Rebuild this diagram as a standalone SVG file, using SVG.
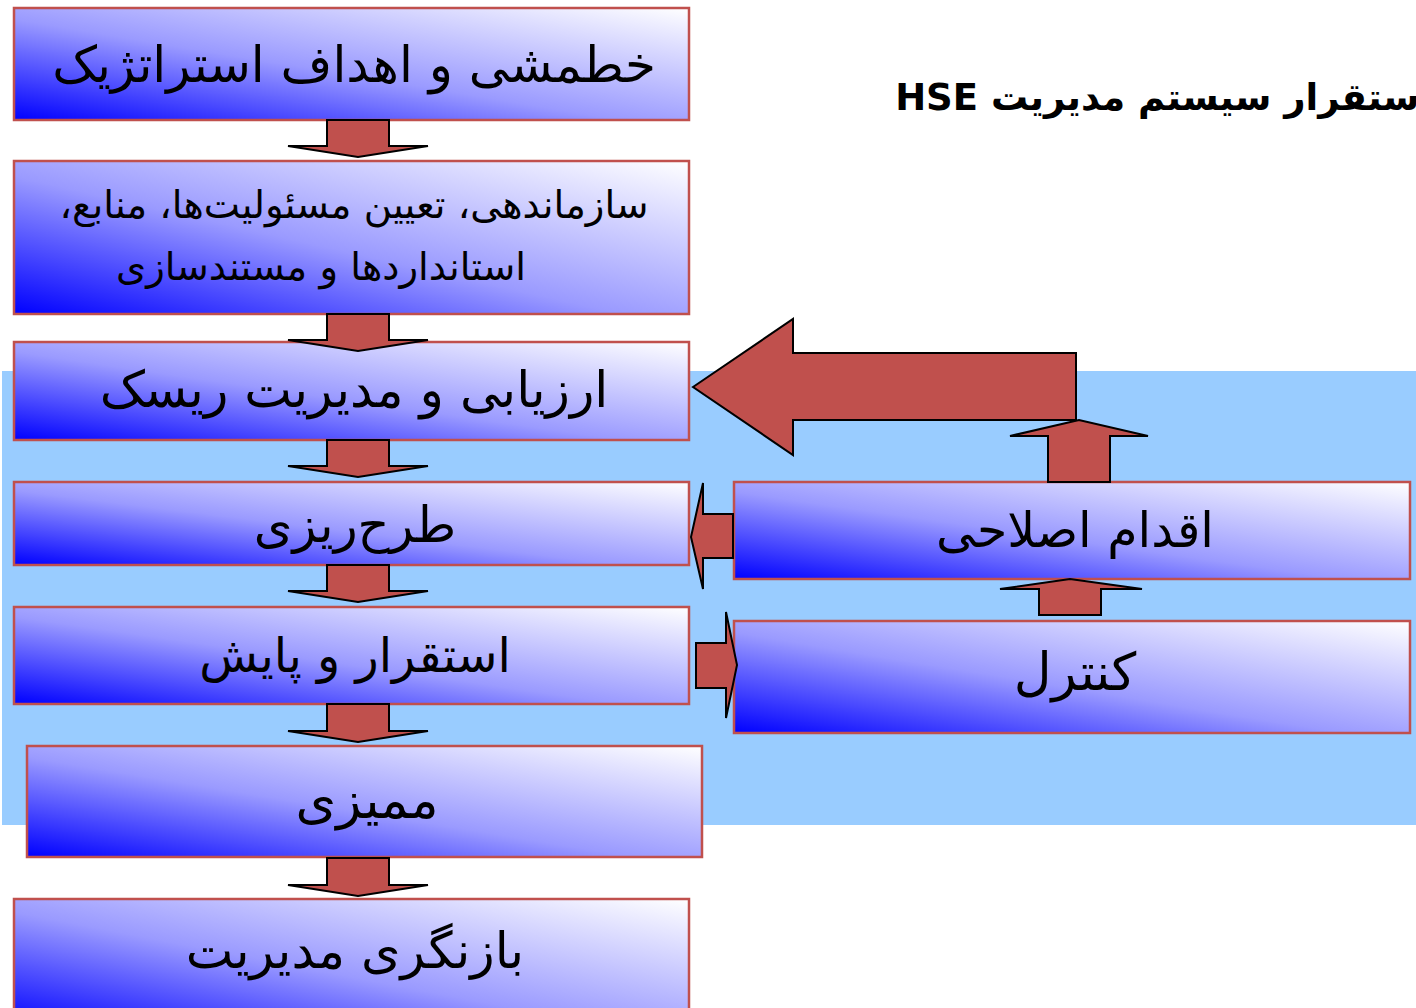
<svg xmlns="http://www.w3.org/2000/svg" width="1416" height="1008" viewBox="0 0 1416 1008">
<defs>
<linearGradient id="g" x1="0" y1="1" x2="1" y2="0">
<stop offset="0" stop-color="#0000ff"/>
<stop offset="0.45" stop-color="#9a9aff"/>
<stop offset="1" stop-color="#ffffff"/>
</linearGradient>
<style>
.box{fill:url(#g);stroke:#c0504d;stroke-width:2.5}
.t{font-family:"DejaVu Sans",sans-serif;fill:#000;text-anchor:middle;direction:rtl}
.arr{fill:#c0504d;stroke:#000;stroke-width:2;stroke-linejoin:miter}
</style>
</defs>
<rect width="1416" height="1008" fill="#ffffff"/>
<rect x="2" y="371" width="1416" height="454" fill="#99ccff"/>
<text x="1432" y="110" font-family="DejaVu Sans,sans-serif" font-weight="bold" font-size="37" direction="rtl" text-anchor="start">استقرار سیستم مدیریت HSE</text>
<g id="n1"><rect class="box" x="14" y="8" width="675" height="112"/><text class="t" x="354" y="82" font-size="50">خطمشی و اهداف استراتژیک</text></g>
<g id="n2"><rect class="box" x="14" y="161" width="675" height="153"/><text class="t" x="354" y="218" font-size="38.5">سازماندهی، تعیین مسئولیت‌ها، منابع،</text><text class="t" x="321" y="280" font-size="38.5">استانداردها و مستندسازی</text></g>
<g id="n3"><rect class="box" x="14" y="342" width="675" height="98"/><text class="t" x="354" y="407" font-size="50.5">ارزیابی و مدیریت ریسک</text></g>
<g id="n4"><rect class="box" x="14" y="482" width="675" height="83"/><text class="t" x="355" y="542" font-size="49.5">طرح‌ریزی</text></g>
<g id="n5"><rect class="box" x="14" y="607" width="675" height="97"/><text class="t" x="355" y="672" font-size="48">استقرار و پایش</text></g>
<g id="n6"><rect class="box" x="27" y="746" width="675" height="111"/><text class="t" x="367" y="818" font-size="52">ممیزی</text></g>
<g id="n7"><rect class="box" x="14" y="899" width="675" height="130"/><text class="t" x="355" y="968" font-size="50.5">بازنگری مدیریت</text></g>
<g id="n8"><rect class="box" x="734" y="482" width="676" height="97"/><text class="t" x="1075" y="547" font-size="49">اقدام اصلاحی</text></g>
<g id="n9"><rect class="box" x="734" y="621" width="676" height="112"/><text class="t" x="1075" y="690" font-size="52">کنترل</text></g>
<g id="connectors">
<path class="arr" d="M327,120H389V146H428L358,157L288,146H327Z"/>
<path class="arr" d="M327,314H389V340H428L358,351L288,340H327Z"/>
<path class="arr" d="M327,440H389V466H428L358,477L288,466H327Z"/>
<path class="arr" d="M327,565H389V591H428L358,602L288,591H327Z"/>
<path class="arr" d="M327,704H389V731H428L358,742L288,731H327Z"/>
<path class="arr" d="M327,858H389V885H428L358,896L288,885H327Z"/>
<path class="arr" d="M693,387L793,319V353H1076V420H793V455Z"/>
<path class="arr" d="M1048,482V436H1010L1079,420L1148,436H1110V482Z"/>
<path class="arr" d="M1039,615V589H1000L1070,579L1142,589H1101V615Z"/>
<path class="arr" d="M733,514H703V483L691,537L703,589V558H733Z"/>
<path class="arr" d="M696,643H726V612L737,665L726,718V688H696Z"/>
</g>
</svg>
